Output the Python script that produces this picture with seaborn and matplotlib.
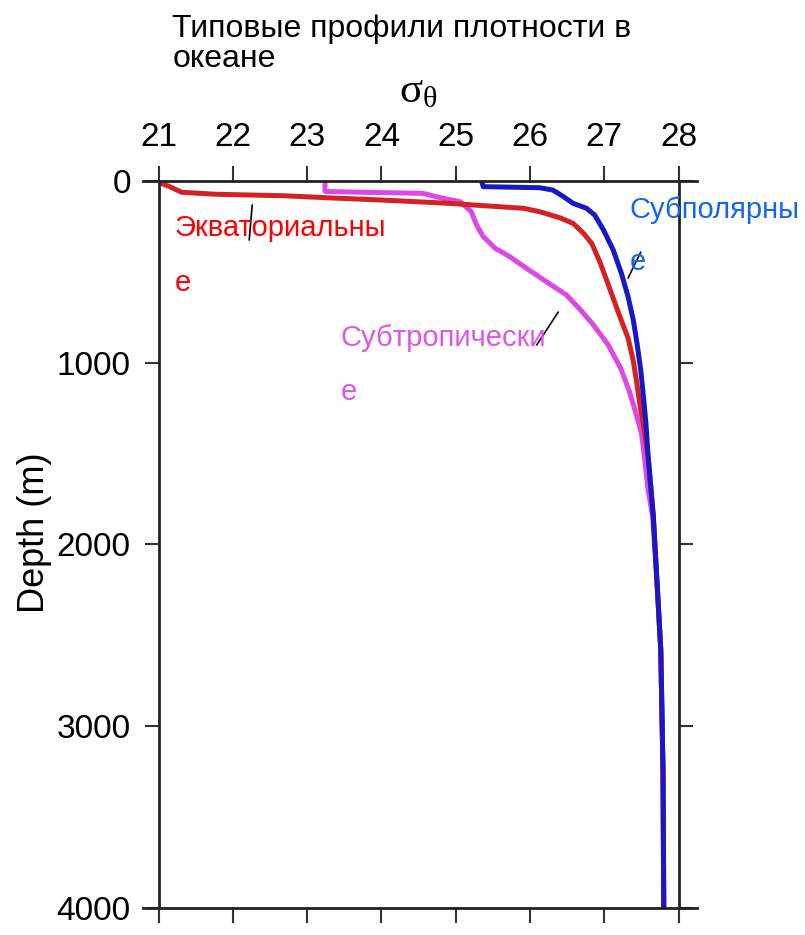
import matplotlib
matplotlib.use("Agg")
import matplotlib.pyplot as plt
import pandas as pd
import seaborn as sns

# Potential density (sigma-theta) profiles, depth in metres
equatorial_sigma = [21.00, 21.15, 21.31, 21.78, 22.68, 23.26, 24.02, 24.92, 25.24, 25.91,
                    26.13, 26.40, 26.58, 26.72, 26.83, 26.94, 27.08, 27.21, 27.32, 27.39,
                    27.44, 27.49, 27.53, 27.59, 27.66, 27.71, 27.76, 27.79, 27.80]
equatorial_depth = [7, 31, 62, 73, 81, 92, 105, 123, 132, 150,
                    169, 202, 233, 288, 343, 445, 600, 747, 865, 990,
                    1120, 1260, 1350, 1517, 1847, 2213, 2580, 3250, 4000]

subtropical_sigma = [23.24, 23.24, 23.40, 24.56, 24.79, 25.06, 25.21, 25.28, 25.37, 25.53,
                     25.73, 25.95, 26.22, 26.49, 26.67, 26.85, 27.05, 27.22, 27.34, 27.42,
                     27.50, 27.54, 27.59, 27.65, 27.71, 27.76, 27.79, 27.80]
subtropical_depth = [0, 57, 59, 68, 92, 114, 169, 242, 306, 370,
                     417, 480, 554, 627, 705, 790, 900, 1030, 1160, 1270,
                     1388, 1517, 1700, 1847, 2213, 2580, 3250, 4000]

subpolar_sigma = [25.35, 25.37, 26.13, 26.31, 26.45, 26.58, 26.76, 26.87, 26.99, 27.12,
                  27.23, 27.32, 27.39, 27.44, 27.49, 27.53, 27.56, 27.59, 27.66, 27.71,
                  27.76, 27.79, 27.80]
subpolar_depth = [4, 31, 37, 50, 86, 123, 150, 187, 270, 380,
                  508, 637, 765, 893, 1040, 1200, 1333, 1517, 1847, 2213,
                  2580, 3250, 4000]

x_ticks = [21, 22, 23, 24, 25, 26, 27, 28]
y_ticks = [0, 1000, 2000, 3000, 4000]

profiles = ["Субтропические", "Экваториальные", "Субполярные"]
line_colors = {"Экваториальные": "#d42222", "Субтропические": "#e046e6", "Субполярные": "#1818c4"}

df = pd.concat([
    pd.DataFrame({"sigma": subtropical_sigma, "depth": subtropical_depth, "profile": profiles[0]}),
    pd.DataFrame({"sigma": equatorial_sigma, "depth": equatorial_depth, "profile": profiles[1]}),
    pd.DataFrame({"sigma": subpolar_sigma, "depth": subpolar_depth, "profile": profiles[2]}),
], ignore_index=True)

sns.set_theme(style="white")
plt.rcParams["font.family"] = ["Liberation Sans", "DejaVu Sans"]
plt.rcParams["mathtext.fontset"] = "custom"
plt.rcParams["mathtext.rm"] = "Liberation Serif"
plt.rcParams["mathtext.it"] = "Liberation Serif"

fig = plt.figure(figsize=(8.05, 9.35), dpi=100)
ax = fig.add_axes([0.197, 0.0289, 0.646, 0.7775])

sns.lineplot(data=df, x="sigma", y="depth", hue="profile", hue_order=profiles,
             palette=line_colors, sort=False, orient="y", estimator=None,
             legend=False, linewidth=3.6, ax=ax)
for ln in ax.get_lines():
    ln.set_solid_joinstyle("round")
    ln.set_solid_capstyle("round")

ax.set_xlim(21, 28)
ax.set_ylim(4000, 0)
ax.set_xticks(x_ticks)
ax.set_yticks(y_ticks)
ax.set_xticklabels([str(v) for v in x_ticks])
ax.set_yticklabels([str(v) for v in y_ticks])

ax.xaxis.set_label_position("top")
ax.tick_params(axis="x", which="both", top=True, bottom=True, labeltop=True, labelbottom=False,
               direction="out", length=11, width=1.5, pad=9, labelsize=24,
               color="#333333", labelcolor="black")
ax.tick_params(axis="y", which="both", left=True, right=True, labelleft=True, labelright=False,
               direction="out", length=10, width=1.5, pad=10, labelsize=24,
               color="#333333", labelcolor="black")

for side in ["top", "bottom", "left", "right"]:
    ax.spines[side].set_visible(True)
    ax.spines[side].set_color("#222222")
    ax.spines[side].set_linewidth(2.0)
ax.spines["top"].set_bounds(20.79, 28.25)
ax.spines["bottom"].set_bounds(20.79, 28.25)

ax.set_xlabel(r"$\mathrm{\sigma}_{\mathrm{\theta}}$", fontsize=31, labelpad=14, color="black")
ax.set_ylabel("Depth (m)", fontsize=26, color="black")
ax.yaxis.set_label_coords(-0.205, 0.516)

fig.text(0.214, 0.985, "Типовые профили плотности в\nокеане", fontsize=23,
         ha="left", va="top", color="black", linespacing=1.0)

# Curve labels with short leader strokes
lab_size = 21
ax.text(21.22, 259, "Экваториальны", color="#ff0000", fontsize=lab_size, va="center", ha="left")
ax.text(21.22, 561, "е", color="#ff0000", fontsize=lab_size, va="center", ha="left")
ax.text(23.45, 864, "Субтропически", color="#dd55ee", fontsize=lab_size, va="center", ha="left")
ax.text(23.45, 1161, "е", color="#dd55ee", fontsize=lab_size, va="center", ha="left")
ax.text(27.34, 160, "Субполярны", color="#1166ee", fontsize=lab_size, va="center", ha="left", clip_on=False)
ax.text(27.34, 446, "е", color="#1166ee", fontsize=lab_size, va="center", ha="left")

ax.plot([22.26, 22.22], [132, 325], color="black", lw=1.2)
ax.plot([26.38, 26.09], [721, 902], color="black", lw=1.2)
ax.plot([27.49, 27.32], [391, 534], color="black", lw=1.2)

fig.savefig("out.png", dpi=100, facecolor="white")
